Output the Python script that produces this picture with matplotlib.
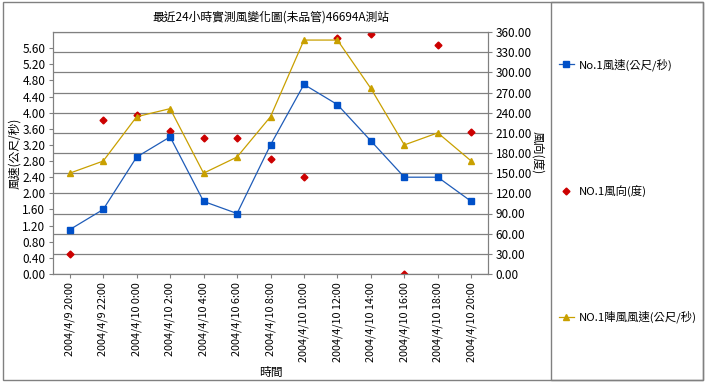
import matplotlib
matplotlib.use('Agg')
import matplotlib.pyplot as plt
from matplotlib.patches import Rectangle
from matplotlib.lines import Line2D

plt.rcParams['font.family'] = ['Noto Sans CJK TC', 'DejaVu Sans']

times = ['2004/4/9 20:00', '2004/4/9 22:00', '2004/4/10 0:00', '2004/4/10 2:00',
         '2004/4/10 4:00', '2004/4/10 6:00', '2004/4/10 8:00', '2004/4/10 10:00',
         '2004/4/10 12:00', '2004/4/10 14:00', '2004/4/10 16:00', '2004/4/10 18:00',
         '2004/4/10 20:00']
speed = [1.1, 1.6, 2.9, 3.4, 1.8, 1.5, 3.2, 4.7, 4.2, 3.3, 2.4, 2.4, 1.8]
gust = [2.5, 2.8, 3.9, 4.1, 2.5, 2.9, 3.9, 5.8, 5.8, 4.6, 3.2, 3.5, 2.8]
direction = [30, 229, 236, 212, 202, 202, 171, 145, 351, 357, 0, 341, 211]

left_ticks = [i * 0.4 for i in range(15)]
right_ticks = list(range(0, 361, 30))

blue = '#1f5cb8'
gold = '#c9a000'
red = '#cc0000'
gray = '#808080'

fig = plt.figure(figsize=(7.06, 3.84), dpi=100)
ax = fig.add_axes([53 / 706, 110 / 384, 435 / 706, 242 / 384])
ax2 = ax.twinx()

x = list(range(len(times)))
ax.plot(x, speed, color=blue, lw=0.9, marker='s', ms=4, mfc='#0050c8', mec='#0050c8')
ax.plot(x, gust, color=gold, lw=0.9, marker='^', ms=5, mfc=gold, mec=gold)
ax2.plot(x, direction, ls='none', marker='D', ms=3.5, mfc=red, mec=red)

ax.set_xlim(-0.5, len(times) - 0.5)
ax.set_ylim(0, 6)
ax.set_yticks(left_ticks)
ax.set_yticklabels(['%.2f' % v for v in left_ticks])
ax2.set_ylim(0, 360)
ax2.set_yticks(right_ticks)
ax2.set_yticklabels(['%.2f' % v for v in right_ticks])
ax.set_xticks(x)
ax.set_xticklabels(times, rotation=90)

ax2.grid(axis='y', color=gray, lw=0.9)
ax2.set_axisbelow(True)
ax.set_zorder(ax2.get_zorder() + 1)
ax.patch.set_visible(False)

for a in (ax, ax2):
    for s in a.spines.values():
        s.set_color(gray)
    a.tick_params(colors='black', labelsize=8.5, length=3, width=0.8, pad=2.5)
    a.tick_params(axis='both', color=gray)
ax.tick_params(axis='x', labelsize=7.8, pad=3)

ax.set_title('最近24小時實測風變化圖(未品管)46694A測站', fontsize=8.5, pad=8)
ax.set_ylabel('風速(公尺/秒)', fontsize=8.5, labelpad=1)
ax2.set_ylabel('風向(度)', fontsize=8.5, rotation=-90, labelpad=9)
ax.set_xlabel('時間', fontsize=8.5, labelpad=3)

# outer chart border and legend box
fig.patches.append(Rectangle((3 / 706, 4 / 384), 700 / 706, 378 / 384, transform=fig.transFigure,
                             fill=False, ec=gray, lw=1))
fig.patches.append(Rectangle((551 / 706, 4 / 384), 152 / 706, 378 / 384, transform=fig.transFigure,
                             fill=False, ec=gray, lw=1))

handles = [Line2D([], [], color=blue, lw=0.9, marker='s', ms=4, mfc='#0050c8', mec='#0050c8'),
           Line2D([], [], ls='none', marker='D', ms=3.5, mfc=red, mec=red),
           Line2D([], [], color=gold, lw=0.9, marker='^', ms=5, mfc=gold, mec=gold)]
labels = ['No.1風速(公尺/秒)', 'NO.1風向(度)', 'NO.1陣風風速(公尺/秒)']
fig.legend(handles, labels, loc='center left', bbox_to_anchor=(553 / 706, 0.503),
           frameon=False, fontsize=8.2, labelspacing=10.0, handlelength=1.3,
           handletextpad=0.5, borderpad=0)

fig.savefig('out.png', dpi=100)
